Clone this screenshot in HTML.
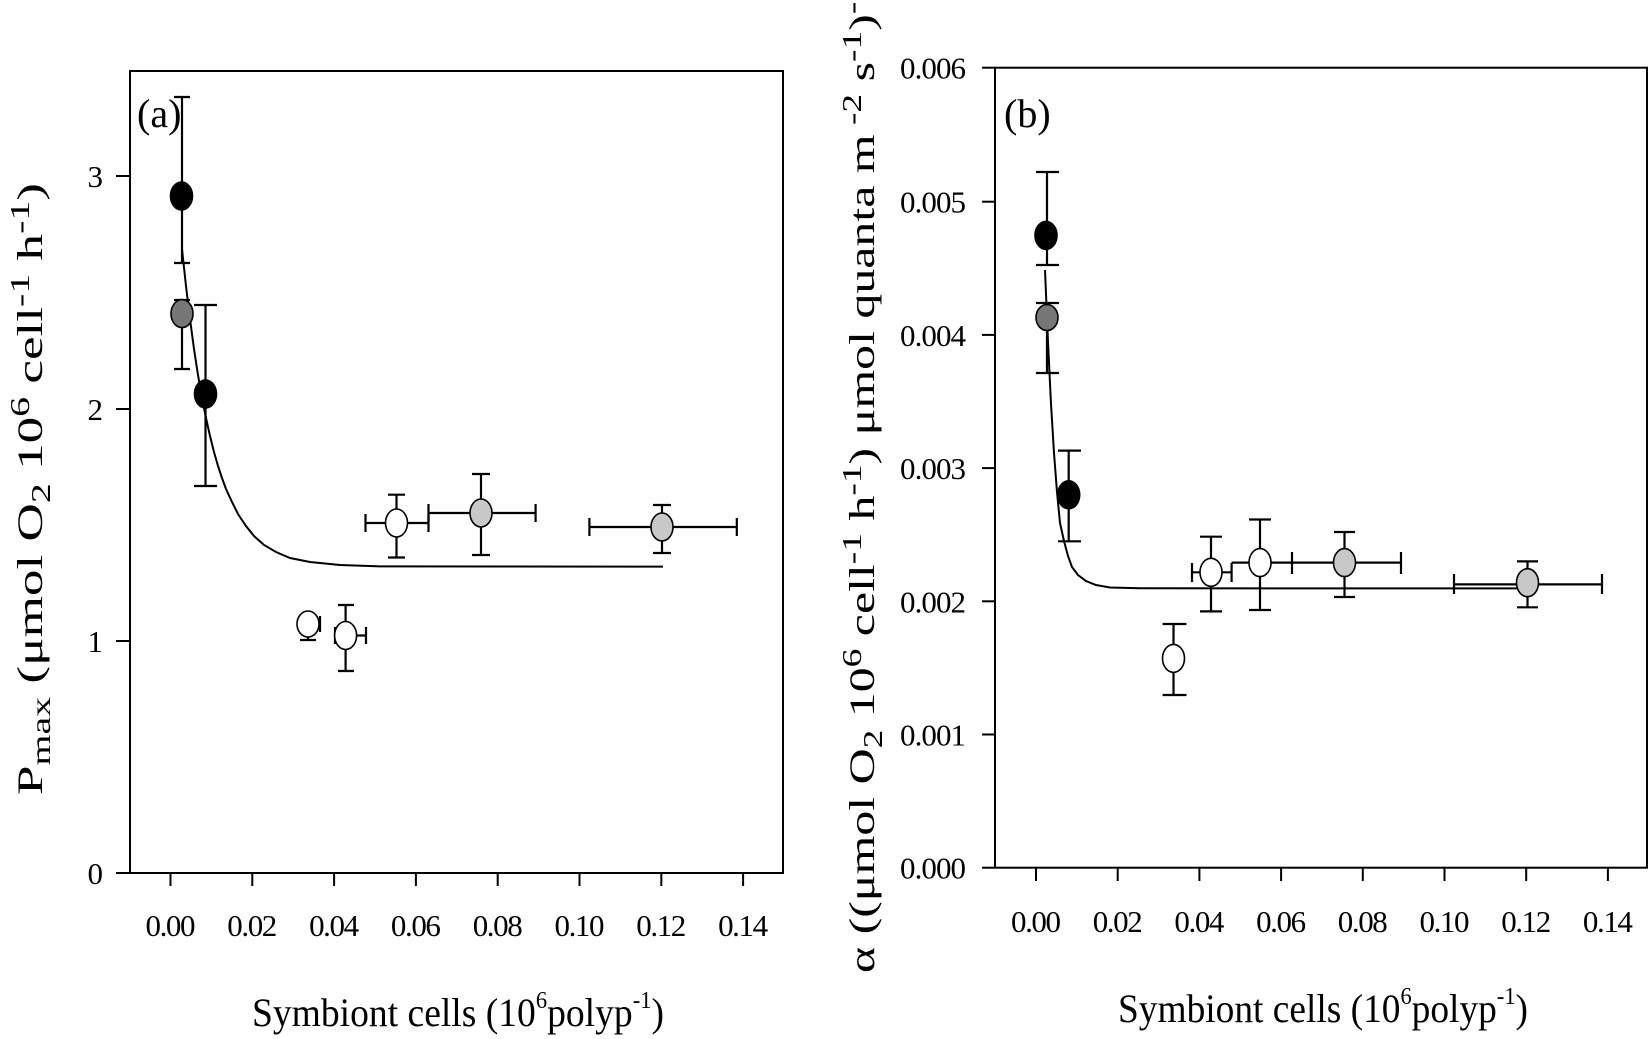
<!DOCTYPE html>
<html><head><meta charset="utf-8"><style>
html,body{margin:0;padding:0;background:#fff;}
svg{display:block;}
text{font-family:"Liberation Serif",serif;fill:#000;}
</style></head><body>
<svg width="1650" height="1039" viewBox="0 0 1650 1039" xmlns="http://www.w3.org/2000/svg">
<rect width="1650" height="1039" fill="#fff"/>
<g stroke="#000" stroke-width="2" fill="none">
<rect x="130" y="71" width="653" height="802"/>
<line x1="116" y1="873" x2="130" y2="873"/>
<line x1="116" y1="641" x2="130" y2="641"/>
<line x1="116" y1="409" x2="130" y2="409"/>
<line x1="116" y1="176" x2="130" y2="176"/>
<line x1="170.5" y1="873" x2="170.5" y2="886"/>
<line x1="252.3" y1="873" x2="252.3" y2="886"/>
<line x1="334.1" y1="873" x2="334.1" y2="886"/>
<line x1="415.9" y1="873" x2="415.9" y2="886"/>
<line x1="497.7" y1="873" x2="497.7" y2="886"/>
<line x1="579.5" y1="873" x2="579.5" y2="886"/>
<line x1="661.3" y1="873" x2="661.3" y2="886"/>
<line x1="743.1" y1="873" x2="743.1" y2="886"/>
<rect x="995" y="67.7" width="652" height="800"/>
<line x1="982" y1="867.7" x2="995" y2="867.7"/>
<line x1="982" y1="734.5" x2="995" y2="734.5"/>
<line x1="982" y1="601.3" x2="995" y2="601.3"/>
<line x1="982" y1="468.1" x2="995" y2="468.1"/>
<line x1="982" y1="334.9" x2="995" y2="334.9"/>
<line x1="982" y1="201.7" x2="995" y2="201.7"/>
<line x1="982" y1="67.7" x2="995" y2="67.7"/>
<line x1="1036" y1="867.7" x2="1036" y2="881"/>
<line x1="1117.7" y1="867.7" x2="1117.7" y2="881"/>
<line x1="1199.4" y1="867.7" x2="1199.4" y2="881"/>
<line x1="1281.1" y1="867.7" x2="1281.1" y2="881"/>
<line x1="1362.8" y1="867.7" x2="1362.8" y2="881"/>
<line x1="1444.5" y1="867.7" x2="1444.5" y2="881"/>
<line x1="1526.2" y1="867.7" x2="1526.2" y2="881"/>
<line x1="1607.9" y1="867.7" x2="1607.9" y2="881"/>
</g>

<g font-size="31" text-anchor="end">
<text x="103" y="884">0</text>
<text x="103" y="652">1</text>
<text x="103" y="420">2</text>
<text x="103" y="187">3</text>
</g>
<g font-size="31" text-anchor="middle">
<text x="170.5" y="936" textLength="50">0.00</text>
<text x="252.3" y="936" textLength="50">0.02</text>
<text x="334.1" y="936" textLength="50">0.04</text>
<text x="415.9" y="936" textLength="50">0.06</text>
<text x="497.7" y="936" textLength="50">0.08</text>
<text x="579.5" y="936" textLength="50">0.10</text>
<text x="661.3" y="936" textLength="50">0.12</text>
<text x="743.1" y="936" textLength="50">0.14</text>
</g>
<g font-size="31" text-anchor="end">
<text x="966" y="878.7" textLength="66">0.000</text>
<text x="966" y="745.5" textLength="66">0.001</text>
<text x="966" y="612.3" textLength="66">0.002</text>
<text x="966" y="479.1" textLength="66">0.003</text>
<text x="966" y="345.9" textLength="66">0.004</text>
<text x="966" y="212.7" textLength="66">0.005</text>
<text x="966" y="78.7" textLength="66">0.006</text>
</g>
<g font-size="31" text-anchor="middle">
<text x="1036" y="932" textLength="50">0.00</text>
<text x="1117.7" y="932" textLength="50">0.02</text>
<text x="1199.4" y="932" textLength="50">0.04</text>
<text x="1281.1" y="932" textLength="50">0.06</text>
<text x="1362.8" y="932" textLength="50">0.08</text>
<text x="1444.5" y="932" textLength="50">0.10</text>
<text x="1526.2" y="932" textLength="50">0.12</text>
<text x="1607.9" y="932" textLength="50">0.14</text>
</g>

<text x="137" y="127" font-size="40">(a)</text>
<text x="1004" y="127" font-size="40">(b)</text>

<text x="252" y="1026" font-size="40" textLength="412" lengthAdjust="spacingAndGlyphs">Symbiont cells (10<tspan font-size="24" dy="-18">6</tspan><tspan dy="18">polyp</tspan><tspan font-size="24" dy="-18">-1</tspan><tspan dy="18">)</tspan></text>
<text x="1118" y="1022" font-size="40" textLength="410" lengthAdjust="spacingAndGlyphs">Symbiont cells (10<tspan font-size="24" dy="-18">6</tspan><tspan dy="18">polyp</tspan><tspan font-size="24" dy="-18">-1</tspan><tspan dy="18">)</tspan></text>

<text transform="translate(42,795) rotate(-90)" font-size="36" textLength="612" lengthAdjust="spacingAndGlyphs">P<tspan font-size="27" dy="8">max</tspan><tspan dy="-8"> (μmol O</tspan><tspan font-size="27" dy="8">2</tspan><tspan dy="-8"> 10</tspan><tspan font-size="27" dy="-13">6</tspan><tspan dy="13"> cell</tspan><tspan font-size="27" dy="-13">-1</tspan><tspan dy="13">  h</tspan><tspan font-size="27" dy="-13">-1</tspan><tspan dy="13">)</tspan></text>
<text transform="translate(874,973) rotate(-90)" font-size="36" textLength="990" lengthAdjust="spacingAndGlyphs">α ((μmol O<tspan font-size="27" dy="8">2</tspan><tspan dy="-8"> 10</tspan><tspan font-size="27" dy="-13">6</tspan><tspan dy="13"> cell</tspan><tspan font-size="27" dy="-13">-1</tspan><tspan dy="13"> h</tspan><tspan font-size="27" dy="-13">-1</tspan><tspan dy="13">) μmol quanta m</tspan><tspan font-size="27" dy="-13"> -2</tspan><tspan dy="13"> s</tspan><tspan font-size="27" dy="-13">-1</tspan><tspan dy="13">)</tspan><tspan font-size="27" dy="-13">-1</tspan></text>

<path fill="none" stroke="#000" stroke-width="2" d="M182,249 L186,286 L190,319 L194,349 L198,375 L202,398 L206,418 L210,436 L214,452 L218,466 L222,478 L226,489 L232,502 L238,514 L246,526 L254,536 L264,545 L276,552 L290,558 L310,562 L340,565 L380,566.4 L663,566.6"/>
<path fill="none" stroke="#000" stroke-width="2" d="M1045,270 L1048,342 L1051,404 L1054,453 L1057,492 L1060,523 L1064,541 L1068,556 L1072,567 L1078,575 L1086,581 L1096,585 L1110,587.5 L1140,588.3 L1527,588.4"/>

<g stroke="#000" stroke-width="2.2" fill="none">
<path d="M182,97V263 M174,97H190 M174,263H190"/>
<path d="M182,300V369 M174,300H190 M174,369H190"/>
<path d="M205.5,305V486 M194,305H217 M194,486H217"/>
<path d="M300,624H320 M300,616V632 M320,616V632 M308,634V640 M300,640H316"/>
<path d="M345.6,605V671 M338,605H354 M338,671H354 M335,635.5H366 M335,627V644 M366,627V644"/>
<path d="M396.5,494.7V557.5 M388,494.7H405 M388,557.5H405 M365.5,523H428.5 M365.5,514V532 M428.5,514V532"/>
<path d="M481,474V555 M472,474H490 M472,555H490 M428.5,513H535.6 M428.5,504V522 M535.6,504V522"/>
<path d="M662,505V553 M653,505H671 M653,553H671 M589.4,527H736.8 M589.4,518V536 M736.8,518V536"/>
</g>
<g stroke="#000" stroke-width="1.6">
<ellipse cx="181.5" cy="196" rx="11" ry="14" fill="#000"/>
<ellipse cx="182" cy="313.6" rx="11" ry="14" fill="#777"/>
<ellipse cx="205.5" cy="394" rx="11" ry="14" fill="#000"/>
<ellipse cx="308" cy="624" rx="11" ry="13" fill="#fff"/>
<ellipse cx="345.6" cy="635.5" rx="11" ry="14" fill="#fff"/>
<ellipse cx="396.5" cy="523" rx="11" ry="14" fill="#fff"/>
<ellipse cx="481" cy="513" rx="11" ry="14" fill="#c8c8c8"/>
<ellipse cx="662" cy="527" rx="11" ry="14" fill="#c8c8c8"/>
</g>

<g stroke="#000" stroke-width="2.2" fill="none">
<path d="M1047,172V265 M1036,172H1059 M1036,265H1059"/>
<path d="M1047,303V373 M1036,303H1059 M1036,373H1059"/>
<path d="M1068.7,450.6V541.3 M1058,450.6H1081 M1058,541.3H1081"/>
<path d="M1173.5,624V695 M1162.6,624H1186.5 M1162.6,695H1186.5"/>
<path d="M1211,536.7V611.4 M1200,536.7H1222 M1200,611.4H1222 M1192,572.3H1231.6 M1192,563V582 M1231.6,563V582"/>
<path d="M1260,519.5V610 M1249,519.5H1271 M1249,610H1271 M1231.6,562.6H1293"/>
<path d="M1344.5,532V597 M1334,532H1355 M1334,597H1355 M1291,562.6H1401 M1292,552V574 M1401,552V574"/>
<path d="M1527.5,561.4V607.3 M1517,561.4H1538 M1517,607.3H1538 M1454,584.4H1602 M1454,574V594 M1602,574V594"/>
</g>
<g stroke="#000" stroke-width="1.6">
<ellipse cx="1046" cy="235.4" rx="11" ry="14" fill="#000"/>
<ellipse cx="1047" cy="317.5" rx="11" ry="13" fill="#777"/>
<ellipse cx="1068.7" cy="494.8" rx="11" ry="14" fill="#000"/>
<ellipse cx="1173.5" cy="658.4" rx="11" ry="14" fill="#fff"/>
<ellipse cx="1211" cy="572.3" rx="11" ry="14" fill="#fff"/>
<ellipse cx="1260" cy="562.6" rx="11" ry="14" fill="#fff"/>
<ellipse cx="1344.5" cy="562.6" rx="11" ry="14" fill="#c8c8c8"/>
<ellipse cx="1527.5" cy="582.7" rx="11" ry="14" fill="#c8c8c8"/>
</g>
</svg>
</body></html>
